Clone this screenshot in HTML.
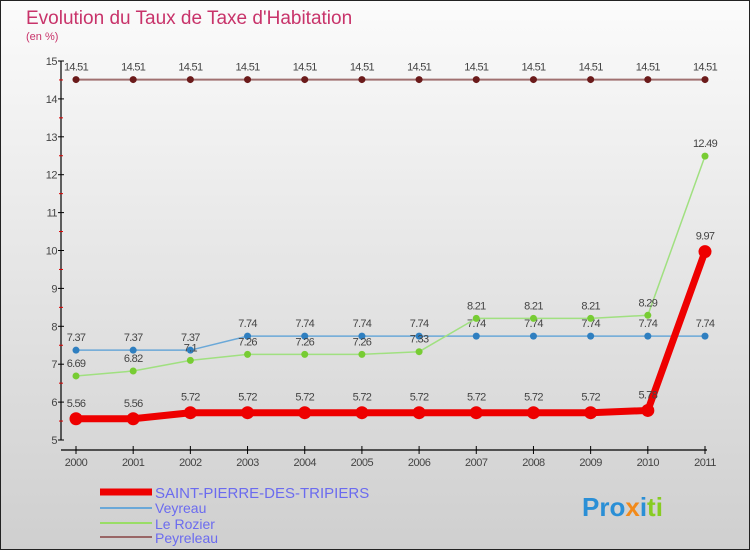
<!DOCTYPE html>
<html><head><meta charset="utf-8"><style>
html,body{margin:0;padding:0;width:750px;height:550px;overflow:hidden}
svg{display:block}
text{font-family:"Liberation Sans",sans-serif}
</style></head><body>
<svg id="chart" width="750" height="550" viewBox="0 0 750 550">
<defs><linearGradient id="bg" x1="0" y1="0" x2="0" y2="1"><stop offset="0" stop-color="#fbfbfb"/><stop offset="1" stop-color="#cfcfcf"/></linearGradient></defs>
<rect x="0.5" y="0.5" width="749" height="549" fill="url(#bg)" stroke="#222"/>
<text x="26" y="24" font-size="19" fill="#c8336a">Evolution du Taux de Taxe d'Habitation</text>
<text x="26" y="40" font-size="11" fill="#c8336a">(en %)</text>
<g id="axes"></g>
<g id="series"></g>
<g id="legend">
<line x1="100" y1="492" x2="152" y2="492" stroke="#ee0000" stroke-width="7"/>
<text x="155" y="498" font-size="15" fill="#6b6bef">SAINT-PIERRE-DES-TRIPIERS</text>
<line x1="100" y1="508" x2="152" y2="508" stroke="#6aa8d8" stroke-width="2"/>
<text x="155" y="513" font-size="14" fill="#6b6bef">Veyreau</text>
<line x1="100" y1="523" x2="152" y2="523" stroke="#99dd66" stroke-width="2"/>
<text x="155" y="529" font-size="14" fill="#6b6bef">Le Rozier</text>
<line x1="100" y1="537" x2="152" y2="537" stroke="#996666" stroke-width="2"/>
<text x="155" y="543" font-size="14" fill="#6b6bef">Peyreleau</text>
</g>
<text x="582" y="516" font-size="26" font-weight="bold"><tspan fill="#2a8fd6">Pro</tspan><tspan fill="#f28a1a">x</tspan><tspan fill="#2a8fd6">i</tspan><tspan fill="#88cc22">ti</tspan></text>
</svg>
<script>
const years = [2000,2001,2002,2003,2004,2005,2006,2007,2008,2009,2010,2011];
const yTicks = [5,6,7,8,9,10,11,12,13,14,15];
const saintPierre = [5.56,5.56,5.72,5.72,5.72,5.72,5.72,5.72,5.72,5.72,5.78,9.97];
const veyreau = [7.37,7.37,7.37,7.74,7.74,7.74,7.74,7.74,7.74,7.74,7.74,7.74];
const leRozier = [6.69,6.82,7.1,7.26,7.26,7.26,7.33,8.21,8.21,8.21,8.29,12.49];
const peyreleau = [14.51,14.51,14.51,14.51,14.51,14.51,14.51,14.51,14.51,14.51,14.51,14.51];

const NS="http://www.w3.org/2000/svg";
const X0=76,X1=705,Y5=440,Y15=61;
function xs(i){return X0+(X1-X0)*i/(years.length-1);}
function ys(v){return Y5-(v-5)*(Y5-Y15)/10;}
function mk(tag,attrs,parent){const e=document.createElementNS(NS,tag);for(const k in attrs)e.setAttribute(k,attrs[k]);parent.appendChild(e);return e;}
const axes=document.getElementById('axes');
const ax1=mk('line',{x1:61,y1:Y15,x2:61,y2:Y5,stroke:'#000','stroke-width':1.2},axes);


const ax2=mk('line',{x1:61,y1:450,x2:X1+2,y2:450,stroke:'#000','stroke-width':1.2},axes);


yTicks.forEach((v,i)=>{
  mk('line',{x1:58,y1:ys(v),x2:64,y2:ys(v),stroke:'#000'},axes);
  if(i<yTicks.length-1) mk('line',{x1:59,y1:ys(v+0.5),x2:63,y2:ys(v+0.5),stroke:'#d00'},axes);
  const t=mk('text',{x:57,y:ys(v)+4,'font-size':11,fill:'#444','text-anchor':'end','letter-spacing':'-0.5'},axes);
  t.textContent=v;
  
  
});
years.forEach((yr,i)=>{
  mk('line',{x1:xs(i),y1:446,x2:xs(i),y2:454,stroke:'#000'},axes);
  const t=mk('text',{x:xs(i),y:466,'font-size':11,fill:'#444','text-anchor':'middle','letter-spacing':'-0.5'},axes);
  t.textContent=yr;
  
  
});
const series=document.getElementById('series');
function draw(name,data,color,lw,r,dot){
  const g=mk('g',{},series);
  
  
  const pts=data.map((v,i)=>xs(i)+','+ys(v)).join(' ');
  mk('polyline',{points:pts,fill:'none',stroke:color,'stroke-width':lw,'stroke-linejoin':'round'},g);
  data.forEach((v,i)=>{
    const c=mk('circle',{cx:xs(i),cy:ys(v),r:r,fill:dot},g);
    
    
    const t=mk('text',{x:xs(i),y:ys(v)-(r>5?12:9),'font-size':11,fill:'#444','text-anchor':'middle','letter-spacing':'-0.7'},g);
    t.textContent=String(v);
    
    
  });
}
draw('peyreleau',peyreleau,'#a07070',2,3.5,'#6b1a1a');
draw('veyreau',veyreau,'#6aa8d8',1.5,3.5,'#2f7fc0');
draw('le-rozier',leRozier,'#a0e080',1.5,3.5,'#77cc33');
draw('saint-pierre',saintPierre,'#ee0000',7,6.5,'#ee0000');
</script>
</body></html>
